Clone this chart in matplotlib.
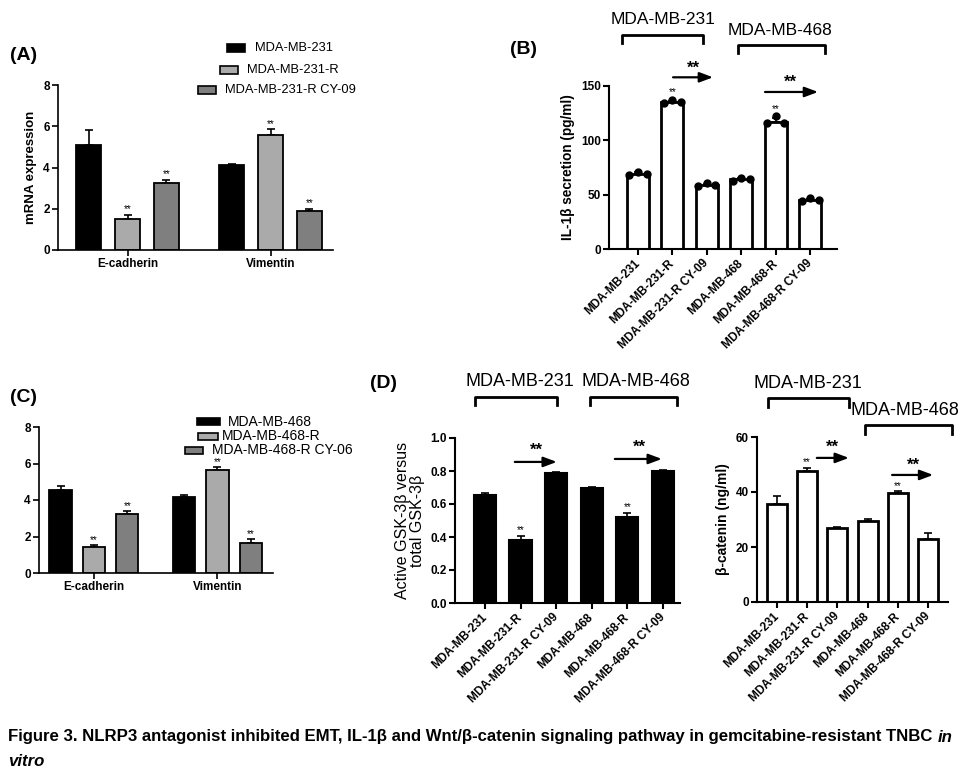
import numpy as np
import matplotlib.pyplot as plt
from matplotlib.patches import Rectangle
from matplotlib import font_manager

W, H = 970, 772

# ---- data ----
emt_genes = ['E-cadherin', 'Vimentin']

a_groups = ['MDA-MB-231', 'MDA-MB-231-R', 'MDA-MB-231-R CY-09']
a_means = [[5.1, 4.1], [1.5, 5.6], [3.25, 1.9]]
a_errs = [[0.7, 0.07], [0.2, 0.25], [0.15, 0.1]]

c_groups = ['MDA-MB-468', 'MDA-MB-468-R', 'MDA-MB-468-R CY-06']
c_means = [[4.55, 4.15], [1.4, 5.65], [3.25, 1.65]]
c_errs = [[0.2, 0.1], [0.12, 0.15], [0.12, 0.2]]

cell_lines = ['MDA-MB-231', 'MDA-MB-231-R', 'MDA-MB-231-R CY-09',
              'MDA-MB-468', 'MDA-MB-468-R', 'MDA-MB-468-R CY-09']
il1b_means = [69, 135, 59, 64, 117, 45]
il1b_errs = [1.5, 1.5, 1.2, 1.2, 3.5, 1.2]
il1b_points = [[68, 71, 69], [134, 137.5, 135.5], [58, 60.5, 58.5],
               [63, 65.5, 64], [115.5, 122, 115.5], [44, 46.5, 45]]
gsk_means = [0.655, 0.38, 0.79, 0.695, 0.52, 0.80]
gsk_errs = [0.01, 0.025, 0.006, 0.008, 0.025, 0.008]
bcat_means = [35.5, 47.8, 26.8, 29.4, 39.8, 23.0]
bcat_errs = [3.2, 0.8, 0.4, 0.8, 0.4, 2.0]
sig_idx = [1, 4]

bar_colors = ['black', '#aaaaaa', '#7f7f7f']

plt.rcParams['font.family'] = ['Liberation Sans', 'DejaVu Sans']
plt.rcParams['font.weight'] = 'bold'
plt.rcParams['axes.linewidth'] = 1.2

fig = plt.figure(figsize=(W / 100, H / 100), dpi=100)


def px_axes(l, t, r, b):
    return fig.add_axes([l / W, 1 - b / H, (r - l) / W, (b - t) / H])


def style(ax, lw=1.2):
    for s in ['top', 'right']:
        ax.spines[s].set_visible(False)
    for s in ['left', 'bottom']:
        ax.spines[s].set_linewidth(lw)
    ax.tick_params(direction='out', length=4, width=lw, labelsize=8.5, pad=2)


def stars(ax, x, y, fs=7):
    ax.text(x, y, '**', ha='center', va='bottom', fontsize=fs, fontweight='normal')


def bracket(ax, x0, x1, y, drop, label, tx, ty, fs):
    ax.plot([x0, x0, x1, x1], [y - drop, y, y, y - drop], color='k', lw=2, clip_on=False)
    ax.text(tx, ty, label, ha='center', va='center', fontsize=fs, fontweight='normal')


def arrow(ax, x0, x1, y, sx, sy):
    ax.annotate('', xy=(x1, y), xytext=(x0, y), annotation_clip=False,
                arrowprops=dict(arrowstyle='-|>,head_length=0.8,head_width=0.3',
                                color='k', lw=1.6, shrinkA=0, shrinkB=0))
    ax.text(sx, sy, '**', ha='center', va='center', fontsize=12, fontweight='bold')


def legend_entry(x_sq, yc, w, h, color, tx, text, fs):
    fig.add_artist(Rectangle((x_sq / W, 1 - (yc + h / 2) / H), w / W, h / H,
                             transform=fig.transFigure, facecolor=color,
                             edgecolor='k', lw=1.2))
    fig.text(tx / W, 1 - yc / H, text, ha='left', va='center', fontsize=fs,
             fontweight='normal')


def grouped_panel(ax, means, errs, offset, width, xlim):
    x = np.arange(len(emt_genes))
    for i in range(3):
        xi = x + (i - 1) * offset
        ax.bar(xi, means[i], width, color=bar_colors[i], edgecolor='k', lw=1.3, zorder=2)
        ax.errorbar(xi, means[i], yerr=[np.zeros(2), errs[i]], fmt='none', ecolor='k',
                    elinewidth=1.2, capsize=3, capthick=1.2, zorder=1)
        if i > 0:
            for xx, m, e in zip(xi, means[i], errs[i]):
                stars(ax, xx, m + e + 0.02)
    ax.set_xlim(*xlim)
    ax.set_ylim(0, 8)
    ax.set_yticks([0, 2, 4, 6, 8])
    ax.set_xticks(x)
    ax.set_xticklabels(emt_genes, fontsize=10, fontweight='bold')
    style(ax)


# ---- (A) ----
axA = px_axes(58, 85, 333, 250)
grouped_panel(axA, a_means, a_errs, 0.271, 0.176, (-0.486, 1.437))
axA.set_ylabel('mRNA expression', fontsize=9.5, fontweight='bold', labelpad=4)
fig.text(10 / W, 1 - 55 / H, '(A)', fontsize=14, fontweight='bold', va='center')
legend_entry(227, 48, 18, 8, bar_colors[0], 255, a_groups[0], 9.3)
legend_entry(220, 70, 18, 8, bar_colors[1], 247, a_groups[1], 9.3)
legend_entry(198, 90, 18, 8, bar_colors[2], 225, a_groups[2], 9.3)

# ---- (C) ----
axC = px_axes(39, 427, 273, 573)
grouped_panel(axC, c_means, c_errs, 0.27, 0.18, (-0.445, 1.45))
fig.text(10 / W, 1 - 397 / H, '(C)', fontsize=14, fontweight='bold', va='center')
legend_entry(197, 422, 23, 7, bar_colors[0], 228, c_groups[0], 10)
legend_entry(198, 436, 20, 7, bar_colors[1], 222, c_groups[1], 10)
legend_entry(185, 450, 18, 7, bar_colors[2], 212, c_groups[2], 10)

xs = np.arange(len(cell_lines))


def six_bar_axis(ax, xlim):
    ax.set_xlim(*xlim)
    ax.set_xticks(xs)
    ax.set_xticklabels(cell_lines, rotation=45, ha='right', va='center',
                       rotation_mode='anchor', fontsize=8.5, fontweight='bold')
    style(ax, 1.5)
    ax.tick_params(axis='x', pad=5)


# ---- (B) ----
axB = px_axes(609, 86, 837, 249)
axB.bar(xs, il1b_means, 0.64, color='white', edgecolor='k', lw=2, zorder=2)
axB.errorbar(xs, il1b_means, yerr=[np.zeros(6), il1b_errs], fmt='none', ecolor='k',
             elinewidth=1.2, capsize=3, capthick=1.2, zorder=3)
for i, pts in enumerate(il1b_points):
    axB.plot(xs[i] + np.array([-0.25, 0, 0.25]), pts, 'o', color='k', ms=5, zorder=4,
             clip_on=False)
for i in sig_idx:
    stars(axB, xs[i], max(il1b_points[i]) + 2.5)
axB.set_ylim(0, 150)
axB.set_yticks([0, 50, 100, 150])
axB.set_ylabel('IL-1β secretion (pg/ml)', fontsize=9.8, fontweight='bold', labelpad=4)
six_bar_axis(axB, (-0.84, 5.78))
bracket(axB, -0.45, 1.9, 197, 7, 'MDA-MB-231', 0.73, 211, 12.5)
bracket(axB, 2.9, 5.44, 188, 8, 'MDA-MB-468', 4.13, 201.5, 12.5)
arrow(axB, 1.02, 2.18, 158, 1.6, 166)
arrow(axB, 3.69, 5.23, 144.5, 4.42, 153)
fig.text(510 / W, 1 - 50 / H, '(B)', fontsize=14, fontweight='bold', va='center')

# ---- (D) left ----
axD1 = px_axes(455, 438, 680, 603)
axD1.bar(xs, gsk_means, 0.62, color='black', edgecolor='k', lw=1.5, zorder=2)
axD1.errorbar(xs, gsk_means, yerr=[np.zeros(6), gsk_errs], fmt='none', ecolor='k',
              elinewidth=1.2, capsize=3, capthick=1.2, zorder=1)
for i in sig_idx:
    stars(axD1, xs[i], gsk_means[i] + gsk_errs[i] + 0.005)
axD1.set_ylim(0, 1.0)
axD1.set_yticks(np.arange(0, 1.01, 0.2))
axD1.set_yticklabels([f'{v:.1f}' for v in np.arange(0, 1.01, 0.2)])
axD1.set_ylabel('Active GSK-3β versus\ntotal GSK-3β', fontsize=11.5,
                fontweight='normal', labelpad=4, linespacing=1.0)
six_bar_axis(axD1, (-0.84, 5.48))
bracket(axD1, -0.28, 2.02, 1.248, 0.048, 'MDA-MB-231', 0.97, 1.34, 13)
bracket(axD1, 2.95, 5.39, 1.248, 0.048, 'MDA-MB-468', 4.24, 1.34, 13)
arrow(axD1, 0.84, 2.02, 0.855, 1.46, 0.925)
arrow(axD1, 3.65, 4.97, 0.873, 4.35, 0.945)
fig.text(370 / W, 1 - 383 / H, '(D)', fontsize=14, fontweight='bold', va='center')

# ---- (D) right ----
axD2 = px_axes(757, 437, 948, 602)
axD2.bar(xs, bcat_means, 0.66, color='white', edgecolor='k', lw=2, zorder=2)
axD2.errorbar(xs, bcat_means, yerr=[np.zeros(6), bcat_errs], fmt='none', ecolor='k',
              elinewidth=1.2, capsize=3, capthick=1.2, zorder=1)
for i in sig_idx:
    stars(axD2, xs[i], bcat_means[i] + bcat_errs[i] + 0.3)
axD2.set_ylim(0, 60)
axD2.set_yticks([0, 20, 40, 60])
axD2.set_ylabel('β-catenin (ng/ml)', fontsize=10, fontweight='bold', labelpad=4)
six_bar_axis(axD2, (-0.66, 5.66))
bracket(axD2, -0.3, 2.38, 74.2, 3.3, 'MDA-MB-231', 1.03, 79.6, 13)
bracket(axD2, 2.91, 5.79, 64.4, 3.3, 'MDA-MB-468', 4.24, 69.8, 13)
arrow(axD2, 1.32, 2.38, 52.4, 1.85, 56.4)
arrow(axD2, 3.81, 5.17, 46.2, 4.5, 49.8)

# ---- caption ----
names = {f.name for f in font_manager.fontManager.ttflist}
cap_font = 'Liberation Sans Narrow' if 'Liberation Sans Narrow' in names else 'Liberation Sans'
cap = ('Figure 3. NLRP3 antagonist inhibited EMT, IL-1β and Wnt/β-catenin '
       'signaling pathway in gemcitabine-resistant TNBC')
t1 = fig.text(8 / W, 1 - 737 / H, cap, fontsize=11, fontweight='bold',
              family=[cap_font, 'DejaVu Sans'], va='center')
fig.canvas.draw()
bb = t1.get_window_extent()
t1.set_fontsize(11 * (938 - 8) / bb.width)
fig.canvas.draw()
bb = t1.get_window_extent()
fs_cap = t1.get_fontsize()
fig.text((bb.x1 + 5) / W, 1 - 737 / H, 'in', fontsize=fs_cap, fontweight='bold',
         style='italic', family=[cap_font, 'DejaVu Sans'], va='center')
fig.text(8 / W, 1 - 762 / H, 'vitro', fontsize=fs_cap, fontweight='bold',
         style='italic', family=[cap_font, 'DejaVu Sans'], va='center')

fig.savefig('out.png', dpi=100)
